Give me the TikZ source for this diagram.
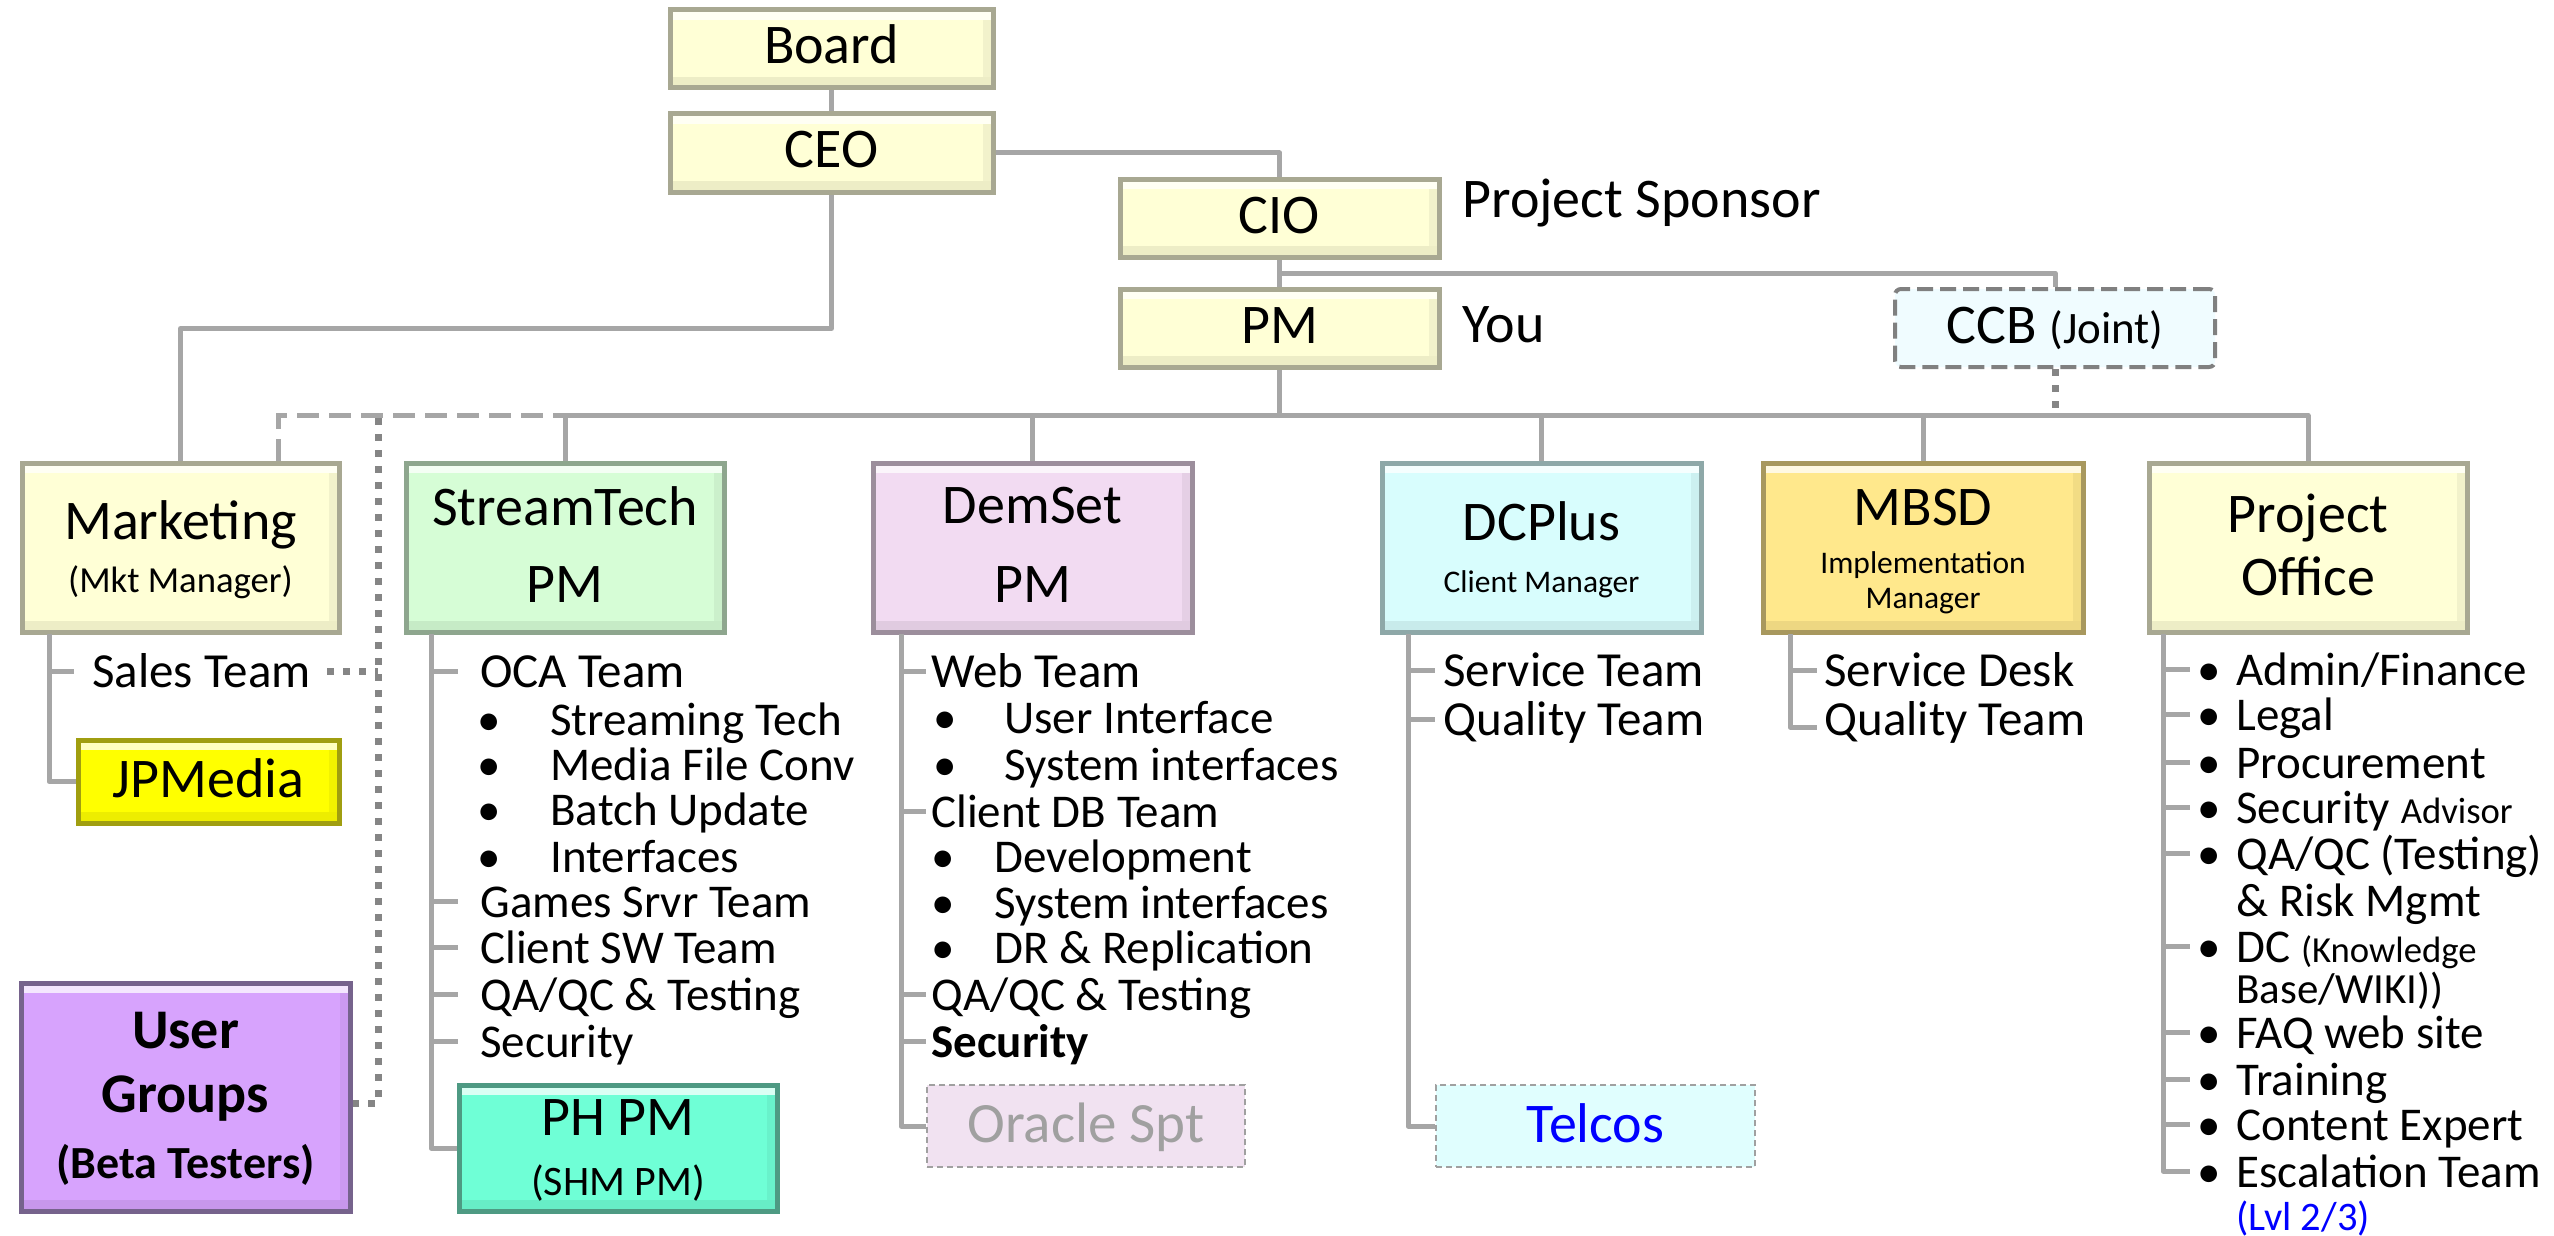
\documentclass[tikz,border=0pt]{standalone}
\usepackage{fontspec}
\setmainfont{Carlito}
\usetikzlibrary{fit,calc}

\definecolor{yfill}{HTML}{FFFFD6}
\definecolor{yline}{HTML}{A8A892}
\definecolor{gfill}{HTML}{D6FDD6}
\definecolor{gline}{HTML}{8EA68E}
\definecolor{pfill}{HTML}{F2DBF2}
\definecolor{pline}{HTML}{9C8E9C}
\definecolor{cfill}{HTML}{D8FDFD}
\definecolor{cline}{HTML}{8EA8A8}
\definecolor{ofill}{HTML}{FFE88C}
\definecolor{oline}{HTML}{A8985E}
\definecolor{jfill}{HTML}{FFFF00}
\definecolor{jline}{HTML}{A09E10}
\definecolor{ufill}{HTML}{D7A3FD}
\definecolor{uline}{HTML}{76638C}
\definecolor{hfill}{HTML}{6FFFD6}
\definecolor{hline}{HTML}{4E9A83}
\definecolor{ccbfill}{HTML}{F0FCFF}
\definecolor{ccbline}{HTML}{808080}
\definecolor{orafill}{HTML}{F1E2F1}
\definecolor{oratext}{HTML}{A0A0A0}
\definecolor{telfill}{HTML}{E0FEFE}
\definecolor{dashbox}{HTML}{A0A0A0}
\definecolor{lnk}{HTML}{A6A6A6}
\definecolor{dotc}{HTML}{858585}

% bullet followed by a fixed indent
\newcommand\bul[1]{\makebox[#1][l]{\makebox[10pt][c]{\textbullet}}}

\begin{document}
\begin{tikzpicture}[x=0.5pt,y=-0.5pt,
  bevel/.style={path picture={
      \fill[white,opacity=.75] ([yshift=-1pt]path picture bounding box.north west) rectangle ([yshift=-5pt]path picture bounding box.north east);
      \fill[black,opacity=.07] ([yshift=1pt]path picture bounding box.south west) rectangle ([yshift=5.5pt]path picture bounding box.south east);
      \fill[black,opacity=.05] ([xshift=-1pt,yshift=-5pt]path picture bounding box.north east) rectangle ([xshift=-5pt,yshift=5.5pt]path picture bounding box.south east);}},
  box/.style 2 args={fill=#1, draw=#2, line width=2.5pt, inner sep=0pt, bevel},
  dbox/.style={fill=#1, draw=dashbox, line width=1pt, dash pattern=on 3pt off 2pt, inner sep=0pt},
  conn/.style={draw=lnk, line width=2.5pt, line join=round},
  dashconn/.style={draw=lnk, line width=2.5pt, dash pattern=on 11pt off 5pt},
  dotconn/.style={draw=dotc, line width=3.5pt, dash pattern=on 3.5pt off 4.5pt},
  ttl/.style={font=\fontsize{28}{30}\selectfont, inner sep=0pt, anchor=base},
  big/.style={font=\fontsize{24.5}{27}\selectfont, inner sep=0pt, anchor=base west, text height=16pt, text depth=0pt},
  sm/.style={font=\fontsize{23.5}{26}\selectfont, inner sep=0pt, anchor=base west, text height=16pt, text depth=0pt},
]
\fill[white] (0,0) rectangle (2554,1236);
\useasboundingbox (0,0) rectangle (2554,1236);

% ---------- boxes ----------
\node[box={yfill}{yline}, fit={(670,10) (993,88)}] (board) {};
\node[box={yfill}{yline}, fit={(670,114) (993,192)}] (ceo) {};
\node[box={yfill}{yline}, fit={(1120,179) (1439,257)}] (cio) {};
\node[box={yfill}{yline}, fit={(1120,289) (1439,367)}] (pm) {};
\node[fill=ccbfill, draw=ccbline, line width=2pt, dash pattern=on 8pt off 3.5pt, rounded corners=3pt, inner sep=0pt, fit={(1895,289) (2215,367)}] (ccb) {};

\node[box={yfill}{yline}, fit={(22,463) (339,632)}] (mkt) {};
\node[box={gfill}{gline}, fit={(406,463) (724,632)}] (st) {};
\node[box={pfill}{pline}, fit={(873,463) (1192,632)}] (dem) {};
\node[box={cfill}{cline}, fit={(1382,463) (1701,632)}] (dcp) {};
\node[box={ofill}{oline}, fit={(1763,463) (2083,632)}] (mbsd) {};
\node[box={yfill}{yline}, fit={(2149,463) (2467,632)}] (po) {};

\node[box={jfill}{jline}, fit={(78,740) (339,823)}] (jp) {};
\node[box={ufill}{uline}, fit={(21,983) (350,1211)}] (ug) {};
\node[box={hfill}{hline}, fit={(459,1085) (777,1211)}] (ph) {};
\node[dbox=orafill, fit={(927,1085) (1245,1167)}] (ora) {};
\node[dbox=telfill, fit={(1436,1085) (1755,1167)}] (tel) {};

% ---------- box captions ----------
\node[ttl] (boardT) at (831.5,64) {Board};
\node[ttl] (ceoT) at (831.5,168) {CEO};
\node[ttl] (cioT) at (1279.5,233) {CIO};
\node[ttl] (pmT) at (1279.5,343) {PM};
\node[ttl, anchor=base west] (sponsor) at (1462,217) {Project Sponsor};
\node[ttl, anchor=base west] (you) at (1462,342) {You};
\node[ttl] (ccbT) at (2055,343) {CCB {\fontsize{22.5}{24}\selectfont(Joint)}};

\node[ttl] (mktT) at (180.5,539) {Marketing};
\node[ttl, font=\fontsize{18.35}{20}\selectfont] (mktS) at (180.5,592) {(Mkt Manager)};
\node[ttl] (stT) at (565,525) {StreamTech};
\node[ttl] (stS) at (565,602) {PM};
\node[ttl] (demT) at (1032.5,523) {DemSet};
\node[ttl] (demS) at (1032.5,602) {PM};
\node[ttl] (dcpT) at (1541.5,540) {DCPlus};
\node[ttl, font=\fontsize{15.75}{17}\selectfont] (dcpS) at (1541.5,592) {Client Manager};
\node[ttl] (mbsdT) at (1923,525) {MBSD};
\node[ttl, font=\fontsize{15.75}{17}\selectfont] (mbsdS) at (1923,573) {Implementation};
\node[ttl, font=\fontsize{15.75}{17}\selectfont] (mbsdS2) at (1923,608) {Manager};
\node[ttl] (poT) at (2308,532) {Project};
\node[ttl] (poS) at (2308,595) {Office};
\node[ttl] (jpT) at (208.5,797) {JPMedia};
\node[ttl, font=\fontsize{28}{30}\selectfont\bfseries] (ugT) at (185.5,1048) {User};
\node[ttl, font=\fontsize{28}{30}\selectfont\bfseries] (ugT2) at (185.5,1112) {Groups};
\node[ttl, font=\fontsize{23}{25}\selectfont\bfseries] (ugS) at (185.5,1178) {(Beta Testers)};
\node[ttl] (phT) at (618,1135) {PH PM};
\node[ttl, font=\fontsize{21}{23}\selectfont] (phS) at (618,1195) {(SHM PM)};
\node[ttl, font=\fontsize{28.5}{30}\selectfont, text=oratext] (oraT) at (1086,1142) {Oracle Spt};
\node[ttl, text=blue] (telT) at (1595.5,1142) {Telcos};

% ---------- team lists ----------
\node[big] (sales) at (92,687) {Sales Team};

\node[big] (st1) at (480,687) {OCA Team};
\node[sm] (st2) at (479,735) {\bul{35.5pt}Streaming Tech};
\node[sm] (st3) at (479,780) {\bul{35.5pt}Media File Conv};
\node[sm] (st4) at (479,825) {\bul{35.5pt}Batch Update};
\node[sm] (st5) at (479,872) {\bul{35.5pt}Interfaces};
\node[sm] (st6) at (480,917) {Games Srvr Team};
\node[sm] (st7) at (480,963) {Client SW Team};
\node[sm] (st8) at (480,1010) {QA/QC \& Testing};
\node[sm] (st9) at (480,1057) {Security};

\node[big] (dm1) at (931,687) {Web Team};
\node[sm] (dm2) at (935,733) {\bul{34.5pt}User Interface};
\node[sm] (dm3) at (935,780) {\bul{34.5pt}System interfaces};
\node[sm] (dm4) at (931,827) {Client DB Team};
\node[sm] (dm5) at (933,872) {\bul{30.5pt}Development};
\node[sm] (dm6) at (933,918) {\bul{30.5pt}System interfaces};
\node[sm] (dm7) at (933,963) {\bul{30.5pt}DR \& Replication};
\node[sm] (dm8) at (931,1010) {QA/QC \& Testing};
\node[sm] (dm9) at (931,1057) {\bfseries Security};

\node[big] (dc1) at (1443,686) {Service Team};
\node[big] (dc2) at (1443,735) {Quality Team};

\node[big] (mb1) at (1824,686) {Service Desk};
\node[big] (mb2) at (1824,735) {Quality Team};

\node[sm] (po1) at (2199,685) {\bul{18.5pt}Admin/Finance};
\node[sm] (po2) at (2199,730) {\bul{18.5pt}Legal};
\node[sm] (po3) at (2199,778) {\bul{18.5pt}Procurement};
\node[sm] (po4) at (2199,823) {\bul{18.5pt}Security {\fontsize{18.35}{20}\selectfont Advisor}};
\node[sm] (po5) at (2199,869) {\bul{18.5pt}QA/QC (Testing)};
\node[sm] (po6) at (2236,916) {\& Risk Mgmt};
\node[sm] (po7) at (2199,962) {\bul{18.5pt}DC {\fontsize{18.35}{20}\selectfont (Knowledge}};
\node[sm, font=\fontsize{21.5}{23}\selectfont] (po8) at (2236,1003) {Base/WIKI))};
\node[sm] (po9) at (2199,1048) {\bul{18.5pt}FAQ web site};
\node[sm] (po10) at (2199,1095) {\bul{18.5pt}Training};
\node[sm] (po11) at (2199,1140) {\bul{18.5pt}Content Expert};
\node[sm] (po12) at (2199,1187) {\bul{18.5pt}Escalation Team};
\node[sm, font=\fontsize{20.25}{22}\selectfont, text=blue] (po13) at (2236,1230) {(Lvl 2/3)};

% ---------- connector anchors ----------
\coordinate (bus) at ($(pm.south)+(0,46)$);
\coordinate (cioJ) at ($(cio.south)!.5!(pm.north)$);
\coordinate (ceoJ) at ($(ceo.south)+(0,134)$);
\coordinate (dotTop) at (378,418);
\coordinate (mkTree) at (49,634);
\coordinate (stTree) at (431,634);
\coordinate (dmTree) at (901,634);
\coordinate (dcTree) at (1408,634);
\coordinate (mbTree) at (1790,634);
\coordinate (poTree) at (2163,634);

% ---------- dashed and dotted relations ----------
\draw[dashconn] ([xshift=48.75pt]mkt.north) |- (bus);
\draw[dotconn] (dotTop) |- ([yshift=-3pt]ug.east);
\draw[dotconn] ([xshift=8pt]sales.east) -- (sales.east -| dotTop);
\draw[dotconn] (ccb.south) -- (ccb.south |- bus);

% ---------- reporting lines ----------
\draw[conn] (board) -- (ceo);
\draw[conn] (ceo.east) -| (cio.north);
\draw[conn] (cio) -- (pm);
\draw[conn] (cioJ) -| (ccb.north);
\draw[conn] (ceo.south) -- (ceoJ) -| (mkt.north);
\draw[conn] (pm.south) -- (bus);
\foreach \c in {st,dem,dcp,mbsd,po} \draw[conn] (bus) -| (\c.north);

% ---------- team trees ----------
\draw[conn] (mkTree) |- (jp.west);
\draw[conn] (mkTree |- sales.west) -- ([xshift=-9pt]sales.west);

\draw[conn] (stTree) |- (ph.west);
\foreach \n in {st1,st6,st7,st8,st9}
  \draw[conn] (stTree |- \n.west) -- ([xshift=-11pt]\n.west);

\draw[conn] (dmTree) |- (ora.west);
\foreach \n in {dm1,dm4,dm8,dm9}
  \draw[conn] (dmTree |- \n.west) -- ([xshift=-2.5pt]\n.west);

\draw[conn] (dcTree) |- (tel.west);
\foreach \n in {dc1,dc2}
  \draw[conn] (dcTree |- \n.west) -- ([xshift=-4pt]\n.west);

\draw[conn] (mbTree) |- ([xshift=-3.5pt,yshift=-4pt]mb2.west);
\draw[conn] (mbTree |- mb1.west) -- ([xshift=-3.5pt]mb1.west);

\draw[conn] (poTree) |- ([xshift=-4.5pt]po12.west);
\foreach \n in {po1,po2,po3,po4,po5,po7,po9,po10,po11}
  \draw[conn] (poTree |- \n.west) -- ([xshift=-4.5pt]\n.west);
\end{tikzpicture}
\end{document}
